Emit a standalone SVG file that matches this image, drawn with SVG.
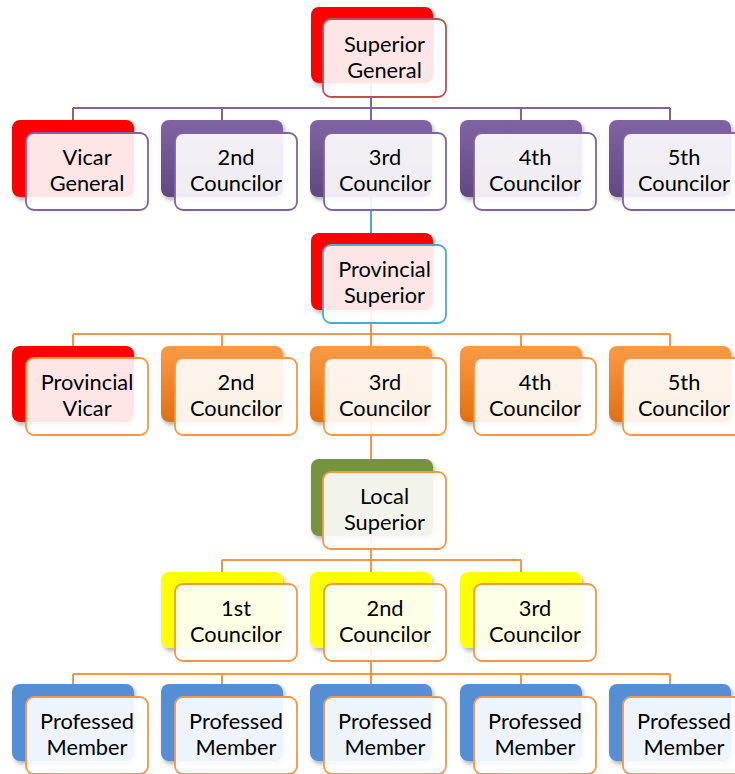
<svg xmlns="http://www.w3.org/2000/svg" width="735" height="774" viewBox="0 0 735 774">
<defs>
<linearGradient id="gPurple" x1="0" y1="0" x2="0" y2="1"><stop offset="0" stop-color="#8064a2"/><stop offset="1" stop-color="#5f4a80"/></linearGradient>
<linearGradient id="gOrange" x1="0" y1="0" x2="0" y2="1"><stop offset="0" stop-color="#fb9a45"/><stop offset="1" stop-color="#e2700e"/></linearGradient>
<filter id="sh" x="-10%" y="-10%" width="130%" height="130%"><feDropShadow dx="2" dy="3" stdDeviation="2" flood-color="#000" flood-opacity="0.3"/></filter>
</defs>
<style>
.back{filter:url(#sh)}
.red{fill:#ff0000}
.pur{fill:url(#gPurple)}
.ora{fill:url(#gOrange)}
.grn{fill:#77933c}
.yel{fill:#ffff00}
.blu{fill:#558ed5}
.front{fill:#ffffff;fill-opacity:0.9;stroke-width:1.8}
.sR{stroke:#c0504d}
.sP{stroke:#8064a2}
.sT{stroke:#4bacc6}
.sO{stroke:#f79646}
text{font-family:Lato,"Open Sans","Liberation Sans",sans-serif;font-size:21.8px;fill:#000;text-anchor:middle}
.cP{stroke:#8064a2;stroke-width:2;fill:none}
.cT{stroke:#4bacc6;stroke-width:2;fill:none}
.cO{stroke:#f79646;stroke-width:2;fill:none}
</style>
<rect width="735" height="774" fill="#ffffff"/>
<g id="connectors">
<path class="cP" d="M371 60V108M73 108H670M73 108V120M222 108V120M371 108V120M521 108V120M670 108V120"/>
<path class="cT" d="M371 180V233"/>
<path class="cO" d="M371 300V334M73 334H670M73 334V346M222 334V346M371 334V346M521 334V346M670 334V346"/>
<path class="cO" d="M371 410V459"/>
<path class="cO" d="M371 520V560M222 560H521M222 560V572M371 560V572M521 560V572"/>
<path class="cO" d="M371 640V674M73 674H670M73 674V684M222 674V684M371 674V684M521 674V684M670 674V684"/>
</g>
<g id="superior-general"><rect class="back red" x="311" y="7" width="122" height="76" rx="8"/><rect class="front sR" x="323" y="19" width="123" height="78" rx="8"/><text x="384.5" y="52">Superior</text><text x="384.5" y="78">General</text></g>
<g id="vicar-general"><rect class="back red" x="12" y="120" width="122" height="77" rx="8"/><rect class="front sP" x="26" y="133" width="122" height="77" rx="8"/><text x="87" y="165">Vicar</text><text x="87" y="191">General</text></g>
<g id="gen-councilor-2"><rect class="back pur" x="161" y="120" width="122" height="77" rx="8"/><rect class="front sP" x="175" y="133" width="122" height="77" rx="8"/><text x="236" y="165">2nd</text><text x="236" y="191">Councilor</text></g>
<g id="gen-councilor-3"><rect class="back pur" x="310" y="120" width="122" height="77" rx="8"/><rect class="front sP" x="324" y="133" width="122" height="77" rx="8"/><text x="385" y="165">3rd</text><text x="385" y="191">Councilor</text></g>
<g id="gen-councilor-4"><rect class="back pur" x="460" y="120" width="122" height="77" rx="8"/><rect class="front sP" x="474" y="133" width="122" height="77" rx="8"/><text x="535" y="165">4th</text><text x="535" y="191">Councilor</text></g>
<g id="gen-councilor-5"><rect class="back pur" x="609" y="120" width="122" height="77" rx="8"/><rect class="front sP" x="623" y="133" width="122" height="77" rx="8"/><text x="684" y="165">5th</text><text x="684" y="191">Councilor</text></g>
<g id="provincial-superior"><rect class="back red" x="311" y="233" width="122" height="77" rx="8"/><rect class="front sT" x="323" y="245" width="123" height="78" rx="8"/><text x="384.5" y="277">Provincial</text><text x="384.5" y="303">Superior</text></g>
<g id="provincial-vicar"><rect class="back red" x="12" y="346" width="122" height="76" rx="8"/><rect class="front sO" x="26" y="358" width="122" height="77" rx="8"/><text x="87" y="390">Provincial</text><text x="87" y="416">Vicar</text></g>
<g id="prov-councilor-2"><rect class="back ora" x="161" y="346" width="122" height="76" rx="8"/><rect class="front sO" x="175" y="358" width="122" height="77" rx="8"/><text x="236" y="390">2nd</text><text x="236" y="416">Councilor</text></g>
<g id="prov-councilor-3"><rect class="back ora" x="310" y="346" width="122" height="76" rx="8"/><rect class="front sO" x="324" y="358" width="122" height="77" rx="8"/><text x="385" y="390">3rd</text><text x="385" y="416">Councilor</text></g>
<g id="prov-councilor-4"><rect class="back ora" x="460" y="346" width="122" height="76" rx="8"/><rect class="front sO" x="474" y="358" width="122" height="77" rx="8"/><text x="535" y="390">4th</text><text x="535" y="416">Councilor</text></g>
<g id="prov-councilor-5"><rect class="back ora" x="609" y="346" width="122" height="76" rx="8"/><rect class="front sO" x="623" y="358" width="122" height="77" rx="8"/><text x="684" y="390">5th</text><text x="684" y="416">Councilor</text></g>
<g id="local-superior"><rect class="back grn" x="311" y="459" width="122" height="77" rx="8"/><rect class="front sO" x="323" y="472" width="123" height="77" rx="8"/><text x="384.5" y="504">Local</text><text x="384.5" y="530">Superior</text></g>
<g id="local-councilor-1"><rect class="back yel" x="161" y="572" width="122" height="76" rx="8"/><rect class="front sO" x="175" y="584" width="122" height="77" rx="8"/><text x="236" y="616">1st</text><text x="236" y="642">Councilor</text></g>
<g id="local-councilor-2"><rect class="back yel" x="310" y="572" width="122" height="76" rx="8"/><rect class="front sO" x="324" y="584" width="122" height="77" rx="8"/><text x="385" y="616">2nd</text><text x="385" y="642">Councilor</text></g>
<g id="local-councilor-3"><rect class="back yel" x="460" y="572" width="122" height="76" rx="8"/><rect class="front sO" x="474" y="584" width="122" height="77" rx="8"/><text x="535" y="616">3rd</text><text x="535" y="642">Councilor</text></g>
<g id="member-1"><rect class="back blu" x="12" y="684" width="122" height="77" rx="8"/><rect class="front sO" x="26" y="697" width="122" height="77" rx="8"/><text x="87" y="729">Professed</text><text x="87" y="755">Member</text></g>
<g id="member-2"><rect class="back blu" x="161" y="684" width="122" height="77" rx="8"/><rect class="front sO" x="175" y="697" width="122" height="77" rx="8"/><text x="236" y="729">Professed</text><text x="236" y="755">Member</text></g>
<g id="member-3"><rect class="back blu" x="310" y="684" width="122" height="77" rx="8"/><rect class="front sO" x="324" y="697" width="122" height="77" rx="8"/><text x="385" y="729">Professed</text><text x="385" y="755">Member</text></g>
<g id="member-4"><rect class="back blu" x="460" y="684" width="122" height="77" rx="8"/><rect class="front sO" x="474" y="697" width="122" height="77" rx="8"/><text x="535" y="729">Professed</text><text x="535" y="755">Member</text></g>
<g id="member-5"><rect class="back blu" x="609" y="684" width="122" height="77" rx="8"/><rect class="front sO" x="623" y="697" width="122" height="77" rx="8"/><text x="684" y="729">Professed</text><text x="684" y="755">Member</text></g>
</svg>
